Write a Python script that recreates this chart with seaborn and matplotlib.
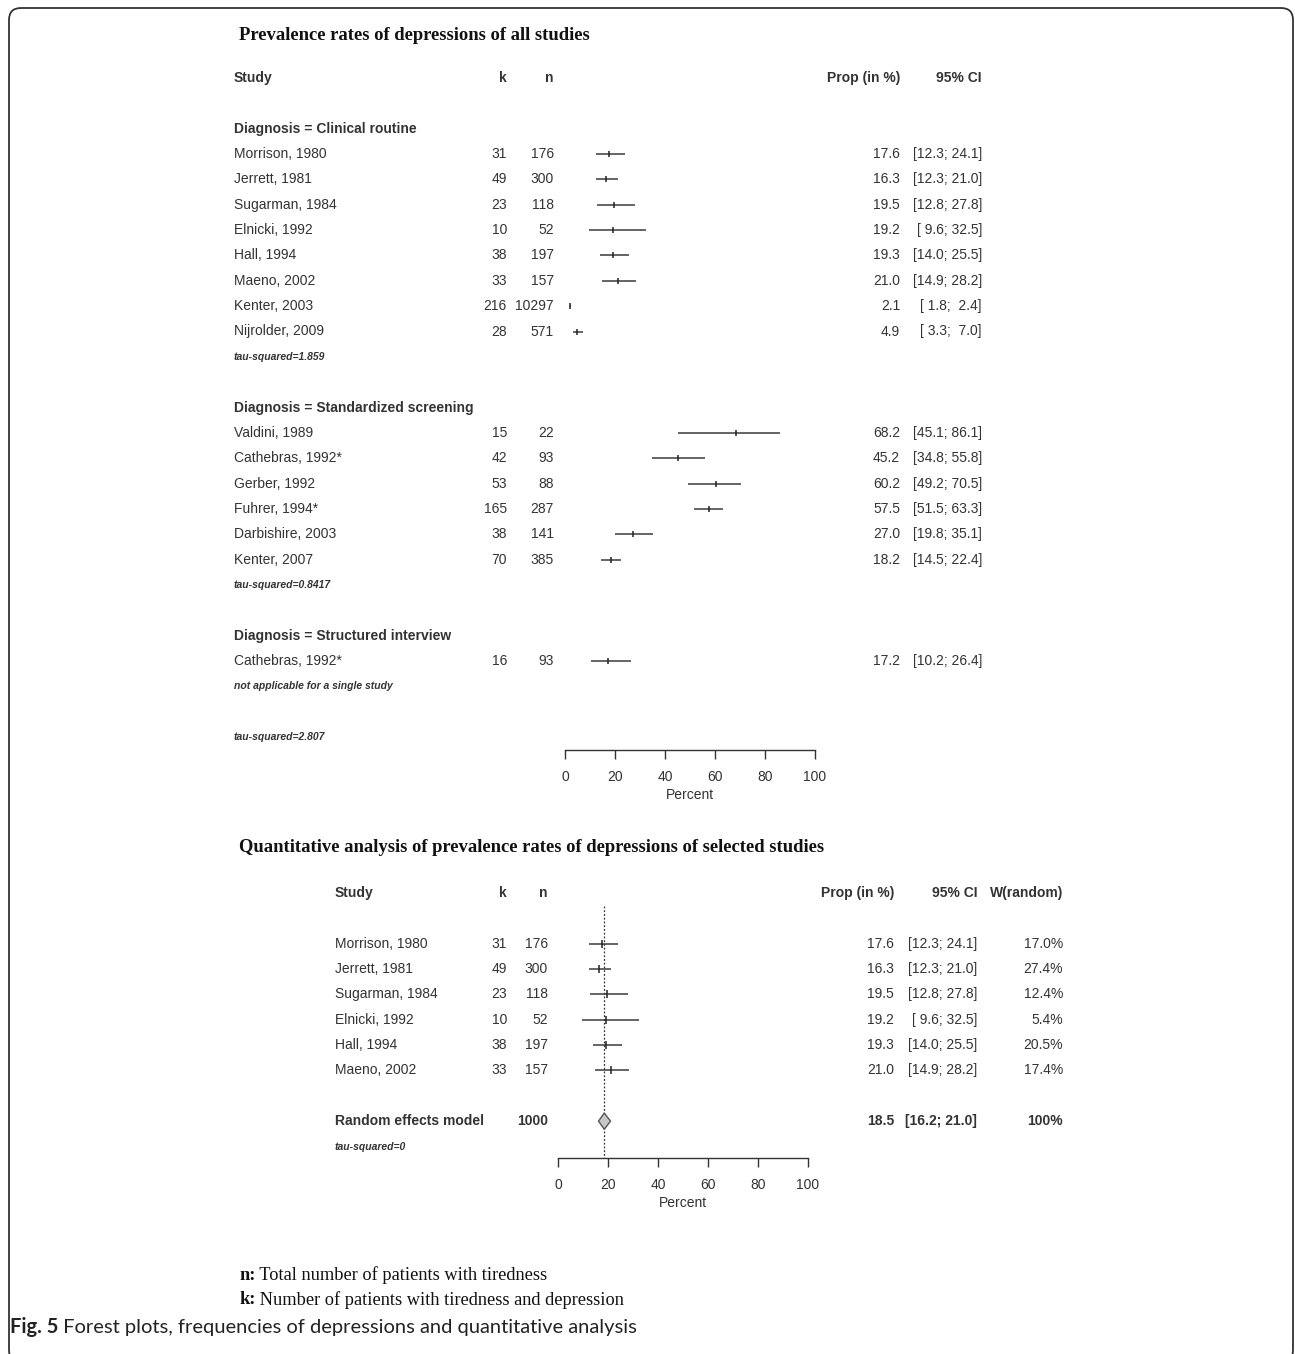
import seaborn as sns
import matplotlib.pyplot as plt
from matplotlib import transforms
from matplotlib.patches import Polygon, FancyBboxPatch

# ---- all studies, by diagnosis method ----
grp_names = ["Diagnosis = Clinical routine",
             "Diagnosis = Standardized screening",
             "Diagnosis = Structured interview"]

g1_study = ["Morrison, 1980", "Jerrett, 1981", "Sugarman, 1984", "Elnicki, 1992",
            "Hall, 1994", "Maeno, 2002", "Kenter, 2003", "Nijrolder, 2009"]
g1_k = [31, 49, 23, 10, 38, 33, 216, 28]
g1_n = [176, 300, 118, 52, 197, 157, 10297, 571]
g1_prop = [17.6, 16.3, 19.5, 19.2, 19.3, 21.0, 2.1, 4.9]
g1_lo = [12.3, 12.3, 12.8, 9.6, 14.0, 14.9, 1.8, 3.3]
g1_hi = [24.1, 21.0, 27.8, 32.5, 25.5, 28.2, 2.4, 7.0]

g2_study = ["Valdini, 1989", "Cathebras, 1992*", "Gerber, 1992", "Fuhrer, 1994*",
            "Darbishire, 2003", "Kenter, 2007"]
g2_k = [15, 42, 53, 165, 38, 70]
g2_n = [22, 93, 88, 287, 141, 385]
g2_prop = [68.2, 45.2, 60.2, 57.5, 27.0, 18.2]
g2_lo = [45.1, 34.8, 49.2, 51.5, 19.8, 14.5]
g2_hi = [86.1, 55.8, 70.5, 63.3, 35.1, 22.4]

g3_study = ["Cathebras, 1992*"]
g3_k = [16]
g3_n = [93]
g3_prop = [17.2]
g3_lo = [10.2]
g3_hi = [26.4]

grp_tau = ["tau-squared=1.859", "tau-squared=0.8417", "not applicable for a single study"]
overall_tau = "tau-squared=2.807"

# ---- selected studies (meta-analysis) ----
sel_study = g1_study[:6]
sel_k = g1_k[:6]
sel_n = g1_n[:6]
sel_prop = g1_prop[:6]
sel_lo = g1_lo[:6]
sel_hi = g1_hi[:6]
sel_w = [17.0, 27.4, 12.4, 5.4, 20.5, 17.4]
re_n = 1000
re_prop, re_lo, re_hi = 18.5, 16.2, 21.0
re_tau = "tau-squared=0"

pct_ticks = [0, 20, 40, 60, 80, 100]

sns.set_style("ticks")
plt.rcParams['font.family'] = ['Liberation Sans', 'DejaVu Sans']

W, H = 1295, 1354
LINE = 25.35
INK = "#333333"
fig = plt.figure(figsize=(W / 100, H / 100), dpi=100)


def box(x0, y0, x1, y1):
    return [x0 / W, 1 - y1 / H, (x1 - x0) / W, (y1 - y0) / H]


def fx(px):
    return px / W


def setup_axis(ax, nlines):
    ax.set_xlim(0, 100)
    ax.set_ylim(nlines, 0)
    ax.patch.set_alpha(0)
    sns.despine(ax=ax, left=True)
    ax.spines["bottom"].set_color(INK)
    ax.spines["bottom"].set_linewidth(1)
    ax.set_yticks([])
    ax.set_xticks(pct_ticks)
    ax.tick_params(axis="x", direction="out", length=6.5, width=1, pad=8,
                   labelsize=10, color=INK, labelcolor=INK)
    ax.set_xlabel("Percent", fontsize=10, color=INK, labelpad=3)


def forest(ax, rows, prop, lo, hi, ms):
    ax.hlines(rows, lo, hi, color="#3a3a3a", lw=1.1, zorder=3)
    sns.scatterplot(x=prop, y=rows, marker="|", s=ms, color="#222222",
                    linewidth=1.1, ax=ax, legend=False, zorder=4)


# ================= top: all studies =================
ax1 = fig.add_axes(box(565, 78, 815, 750))
setup_axis(ax1, (750 - 78) / LINE)
tr1 = transforms.blended_transform_factory(fig.transFigure, ax1.transData)

fig.text(fx(239), 1 - 36 / H, "Prevalence rates of depressions of all studies",
         family="Liberation Serif", weight="bold", size=13.4, va="center", color="#111111")

hdr = dict(transform=tr1, va="center", weight="bold", size=10, color=INK)
ax1.text(fx(234), 0, "Study", ha="left", **hdr)
ax1.text(fx(507), 0, "k", ha="right", **hdr)
ax1.text(fx(554), 0, "n", ha="right", **hdr)
ax1.text(fx(900), 0, "Prop (in %)", ha="right", **hdr)
ax1.text(fx(982), 0, "95% CI", ha="right", **hdr)

groups = [
    (g1_study, g1_k, g1_n, g1_prop, g1_lo, g1_hi),
    (g2_study, g2_k, g2_n, g2_prop, g2_lo, g2_hi),
    (g3_study, g3_k, g3_n, g3_prop, g3_lo, g3_hi),
]
row = 2
body = dict(transform=tr1, va="center", size=10, color=INK)
small = dict(transform=tr1, va="center", size=7.5, color=INK, style="italic", weight="bold")
for gname, (st, kk, nn, pp, lo, hi), tau in zip(grp_names, groups, grp_tau):
    ax1.text(fx(234), row, gname, ha="left", **hdr)
    rows = [row + 1 + i for i in range(len(st))]
    for r, s, k, n, p, l, h in zip(rows, st, kk, nn, pp, lo, hi):
        ax1.text(fx(234), r, s, ha="left", **body)
        ax1.text(fx(507), r, str(k), ha="right", **body)
        ax1.text(fx(554), r, str(n), ha="right", **body)
        ax1.text(fx(900), r, f"{p:.1f}", ha="right", **body)
        ax1.text(fx(982), r, f"[{l:4.1f}; {h:4.1f}]", ha="right", **body)
    forest(ax1, rows, pp, lo, hi, 20)
    row = rows[-1] + 1
    ax1.text(fx(234), row, tau, ha="left", **small)
    row += 2
ax1.text(fx(234), row, overall_tau, ha="left", **small)

# ================= bottom: selected studies =================
ax2 = fig.add_axes(box(558, 893, 808, 1158))
setup_axis(ax2, (1158 - 893) / LINE)
tr2 = transforms.blended_transform_factory(fig.transFigure, ax2.transData)

fig.text(fx(239), 1 - 847 / H,
         "Quantitative analysis of prevalence rates of depressions of selected studies",
         family="Liberation Serif", weight="bold", size=13.4, va="center", color="#111111")

hdr2 = dict(hdr, transform=tr2)
body2 = dict(body, transform=tr2)
small2 = dict(small, transform=tr2)
ax2.text(fx(335), 0, "Study", ha="left", **hdr2)
ax2.text(fx(507), 0, "k", ha="right", **hdr2)
ax2.text(fx(548), 0, "n", ha="right", **hdr2)
ax2.text(fx(894), 0, "Prop (in %)", ha="right", **hdr2)
ax2.text(fx(977), 0, "95% CI", ha="right", **hdr2)
ax2.text(fx(1063), 0, "W(random)", ha="right", **hdr2)

rows2 = [2 + i for i in range(len(sel_study))]
for r, s, k, n, p, l, h, w in zip(rows2, sel_study, sel_k, sel_n, sel_prop, sel_lo, sel_hi, sel_w):
    ax2.text(fx(335), r, s, ha="left", **body2)
    ax2.text(fx(507), r, str(k), ha="right", **body2)
    ax2.text(fx(548), r, str(n), ha="right", **body2)
    ax2.text(fx(894), r, f"{p:.1f}", ha="right", **body2)
    ax2.text(fx(977), r, f"[{l:4.1f}; {h:4.1f}]", ha="right", **body2)
    ax2.text(fx(1063), r, f"{w:.1f}%", ha="right", **body2)

ylo, yhi = ax2.get_ylim()
ax2.vlines(re_prop, 0.5, ylo, color=INK, lw=0.9, linestyles=(0, (1.5, 1.5)), zorder=2)
forest(ax2, rows2, sel_prop, sel_lo, sel_hi, 36)

re_row = rows2[-1] + 2
ax2.add_patch(Polygon([(re_lo, re_row), (re_prop, re_row - 0.32),
                       (re_hi, re_row), (re_prop, re_row + 0.32)],
                      closed=True, facecolor="#c8c8c8", edgecolor="#555555", lw=1, zorder=5))
ax2.text(fx(335), re_row, "Random effects model", ha="left", **hdr2)
ax2.text(fx(548), re_row, str(re_n), ha="right", **hdr2)
ax2.text(fx(894), re_row, f"{re_prop:.1f}", ha="right", **hdr2)
ax2.text(fx(977), re_row, f"[{re_lo:.1f}; {re_hi:.1f}]", ha="right", **hdr2)
ax2.text(fx(1063), re_row, "100%", ha="right", **hdr2)
ax2.text(fx(335), re_row + 1, re_tau, ha="left", **small2)

# ================= notes, caption, frame =================
axf = fig.add_axes([0, 0, 1, 1], zorder=-1)
axf.axis("off")
note = dict(family="Liberation Serif", size=13.2, va="center", color="#111111")
for y, key, rest in [(1275, "n:", " Total number of patients with tiredness"),
                     (1300, "k:", " Number of patients with tiredness and depression")]:
    t = fig.text(fx(239), 1 - y / H, key, weight="bold", **note)
    axf.annotate(rest, xy=(1, 0.5), xycoords=t, ha="left", **note)

cap = dict(family="Lato", size=14.5, va="center", color="#222222")
t = fig.text(fx(10), 1 - 1327 / H, "Fig. 5", weight="bold", **cap)
axf.annotate(" Forest plots, frequencies of depressions and quantitative analysis",
             xy=(1, 0.5), xycoords=t, ha="left", **cap)

fig.patches.append(FancyBboxPatch((0.09, -0.08), 12.84, 13.54, transform=fig.dpi_scale_trans,
                                  boxstyle="round,pad=0,rounding_size=0.12",
                                  fill=False, ec="#333333", lw=1.3))

fig.savefig("out.png", dpi=100)
